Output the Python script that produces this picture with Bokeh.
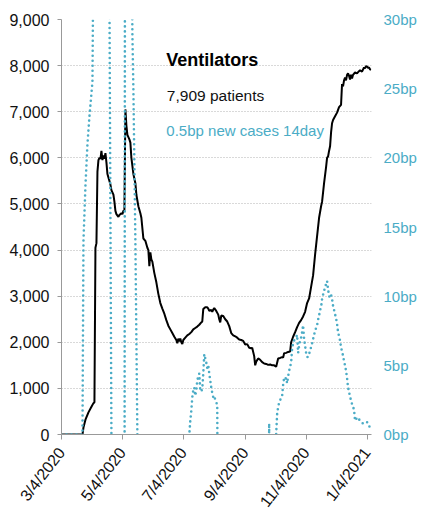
import pandas as pd
from bokeh.plotting import figure
from bokeh.models import Range1d, LinearAxis, FixedTicker, NumeralTickFormatter, Label
from bokeh.embed import file_html
from bokeh.resources import INLINE

START = "2020-03-04"
END = "2021-01-08"

tick_dates = ["2020-03-04", "2020-05-04", "2020-07-04", "2020-09-04", "2020-11-04", "2021-01-04"]
tick_labels = ["3/4/2020", "5/4/2020", "7/4/2020", "9/4/2020", "11/4/2020", "1/4/2021"]
left_ticks = [0, 1000, 2000, 3000, 4000, 5000, 6000, 7000, 8000, 9000]
right_ticks = [0, 5, 10, 15, 20, 25, 30]
right_labels = ["0bp", "5bp", "10bp", "15bp", "20bp", "25bp", "30bp"]

title_text = "Ventilators"
patients_text = "7,909 patients"
cases_text = "0.5bp new cases 14day"

# Ventilator patients (left axis)
vent_dates = [
    "2020-03-04", "2020-03-25", "2020-03-26", "2020-03-28", "2020-03-31", "2020-04-03", "2020-04-05",
    "2020-04-06", "2020-04-07", "2020-04-08", "2020-04-09", "2020-04-10", "2020-04-11", "2020-04-12",
    "2020-04-13", "2020-04-14", "2020-04-15", "2020-04-16", "2020-04-17", "2020-04-18", "2020-04-19",
    "2020-04-21", "2020-04-22", "2020-04-23", "2020-04-24", "2020-04-25", "2020-04-26", "2020-04-27",
    "2020-04-28", "2020-04-30", "2020-05-01", "2020-05-03", "2020-05-04", "2020-05-05", "2020-05-06",
    "2020-05-07", "2020-05-08", "2020-05-09", "2020-05-11", "2020-05-12", "2020-05-13", "2020-05-15",
    "2020-05-17", "2020-05-18", "2020-05-20", "2020-05-22", "2020-05-23", "2020-05-25", "2020-05-27",
    "2020-05-29", "2020-05-30", "2020-05-31", "2020-06-01", "2020-06-02", "2020-06-03", "2020-06-05",
    "2020-06-07", "2020-06-09", "2020-06-11", "2020-06-13", "2020-06-15", "2020-06-17", "2020-06-19",
    "2020-06-21", "2020-06-23", "2020-06-25", "2020-06-27", "2020-06-28", "2020-06-29", "2020-06-30",
    "2020-07-01", "2020-07-02", "2020-07-03", "2020-07-04", "2020-07-06", "2020-07-08", "2020-07-10",
    "2020-07-12", "2020-07-14", "2020-07-16", "2020-07-18", "2020-07-20", "2020-07-22", "2020-07-23",
    "2020-07-24", "2020-07-26", "2020-07-28", "2020-07-29", "2020-07-30", "2020-08-01", "2020-08-02",
    "2020-08-03", "2020-08-04", "2020-08-06", "2020-08-08", "2020-08-09", "2020-08-10", "2020-08-11",
    "2020-08-13", "2020-08-15", "2020-08-17", "2020-08-19", "2020-08-21", "2020-08-23", "2020-08-25",
    "2020-08-27", "2020-08-29", "2020-08-31", "2020-09-02", "2020-09-04", "2020-09-06", "2020-09-08",
    "2020-09-10", "2020-09-11", "2020-09-13", "2020-09-14", "2020-09-15", "2020-09-17", "2020-09-19",
    "2020-09-21", "2020-09-23", "2020-09-25", "2020-09-27", "2020-09-29", "2020-10-01", "2020-10-03",
    "2020-10-05", "2020-10-07", "2020-10-09", "2020-10-11", "2020-10-12", "2020-10-13", "2020-10-15",
    "2020-10-17", "2020-10-19", "2020-10-20", "2020-10-22", "2020-10-24", "2020-10-26", "2020-10-28",
    "2020-10-30", "2020-11-01", "2020-11-03", "2020-11-05", "2020-11-07", "2020-11-09", "2020-11-11",
    "2020-11-13", "2020-11-15", "2020-11-17", "2020-11-19", "2020-11-20", "2020-11-22", "2020-11-24",
    "2020-11-25", "2020-11-26", "2020-11-27", "2020-11-28", "2020-11-29", "2020-11-30", "2020-12-01",
    "2020-12-03", "2020-12-05", "2020-12-07", "2020-12-09", "2020-12-10", "2020-12-11", "2020-12-12",
    "2020-12-13", "2020-12-14", "2020-12-15", "2020-12-16", "2020-12-17", "2020-12-18", "2020-12-19",
    "2020-12-20", "2020-12-21", "2020-12-23", "2020-12-25", "2020-12-27", "2020-12-28", "2020-12-30",
    "2021-01-01", "2021-01-02", "2021-01-03", "2021-01-04", "2021-01-05", "2021-01-06", "2021-01-07",
    "2021-01-08",
]
vent_values = [
    0, 0, 150, 320, 480, 600, 680,
    700, 4050, 4150, 5700, 5950, 6000, 5980,
    6150, 5950, 6050, 5980, 6100, 5900, 5650,
    5500, 5420, 5300, 5250, 5200, 5050, 4850,
    4780, 4720, 4760, 4800, 4780, 4850, 4860,
    7050, 6700, 6500, 6400, 6330, 6000, 5650,
    5450, 5200, 4950, 4800, 4700, 4250, 4200,
    4050, 4000, 3650, 3950, 3800, 3750, 3500,
    3300, 3050, 2850, 2730, 2620, 2480, 2360,
    2280, 2200, 2120, 2050, 1980, 2080, 2020,
    2080, 2000, 1960, 2050, 2100, 2150, 2180,
    2220, 2280, 2310, 2340, 2380, 2430, 2450,
    2720, 2760, 2760, 2730, 2680, 2700, 2660,
    2710, 2740, 2680, 2600, 2500, 2430, 2580,
    2570, 2500, 2450, 2350, 2200, 2150, 2130,
    2100, 2060, 2050, 2030, 1950, 1960, 1880,
    1870, 1880, 1700, 1500, 1580, 1650, 1620,
    1570, 1540, 1530, 1510, 1520, 1500, 1500,
    1470, 1650, 1660, 1680, 1670, 1760, 1770,
    1790, 1800, 2000, 2120, 2220, 2330, 2420,
    2480, 2560, 2660, 2850, 2950, 3200, 3450,
    3900, 4300, 4700, 4950, 5050, 5450, 5800,
    6000, 6030, 6150, 6250, 6550, 6750, 6820,
    6900, 6980, 7100, 7150, 7600, 7550, 7680,
    7740, 7680, 7800, 7830, 7780, 7700, 7800,
    7720, 7800, 7850, 7830, 7880, 7900, 7870,
    7960, 7940, 7990, 7980, 7950, 7960, 7920,
    7909,
]

# New cases over 14 days, in basis points (right axis)
case_dates = [
    "2020-03-04", "2020-03-25", "2020-03-26", "2020-03-28", "2020-03-30", "2020-04-01", "2020-04-04",
    "2020-04-06", "2020-04-13", "2020-04-20", "2020-04-21", "2020-04-23", "2020-04-24", "2020-05-06",
    "2020-05-07", "2020-05-13", "2020-05-14", "2020-05-15", "2020-05-16", "2020-05-17", "2020-05-18",
    "2020-05-19", "2020-05-20", "2020-07-09", "2020-07-10", "2020-07-11", "2020-07-12", "2020-07-13",
    "2020-07-14", "2020-07-15", "2020-07-16", "2020-07-17", "2020-07-18", "2020-07-19", "2020-07-20",
    "2020-07-21", "2020-07-22", "2020-07-23", "2020-07-24", "2020-07-25", "2020-07-26", "2020-07-27",
    "2020-07-28", "2020-07-29", "2020-07-30", "2020-07-31", "2020-08-01", "2020-08-02", "2020-08-03",
    "2020-08-04", "2020-08-05", "2020-08-06", "2020-08-07", "2020-08-08", "2020-09-27", "2020-09-28",
    "2020-09-29", "2020-10-04",
]
case_values = [
    0, 0, 14, 18, 21, 23, 25.5,
    45, 60, 50, 32, 0, -20, -20,
    80, 40, 29, 25, 19.5, 14, 7,
    0, -10, -10, 0, 1.0, 1.7, 2.7,
    3.2, 3.4, 2.8, 3.2, 3.9, 4.2, 4.4,
    3.2, 3.1, 3.3, 4.4, 5.8, 5.5, 5.2,
    4.8, 5.0, 4.4, 3.9, 3.4, 3.0, 2.7,
    2.8, 2.5, 2.3, 2.2, -15, -30, 0.8,
    -30, -5,
]
# daily from 2020-10-05 to 2021-01-08
case_daily_start = "2020-10-05"
case_daily_values = [
    0, 1.5, 2.0, 2.3, 2.5, 2.6, 2.8, 3.6, 4.1, 4.0, 4.1, 3.7, 4.2, 4.6, 4.9, 5.2,
    6.2, 6.6, 6.8, 6.9, 7.0, 7.2, 5.9, 6.4, 6.8, 7.0, 7.4, 7.9, 6.9, 6.4, 5.9, 5.6,
    5.6, 5.8, 6.1, 6.3, 6.6, 6.9, 7.2, 7.5, 7.7, 7.9, 8.3, 8.6, 9.0, 9.2, 9.8, 10.1,
    10.4, 10.6, 10.9, 11.1, 10.5, 10.0, 9.9, 10.1, 9.8, 9.3, 9.0, 8.7, 8.4, 8.0, 7.4,
    7.1, 6.8, 6.3, 6.0, 5.7, 5.3, 5.0, 4.6, 4.1, 3.4, 3.1, 2.7, 2.5, 2.2, 2.0, 1.8,
    1.0, 1.1, 1.2, 1.25, 1.1, 1.0, 0.9, 0.85, 0.8, 0.85, 0.9, 0.9, 0.9, 0.8, 0.6,
    0.55, 0.5,
]

TEAL = "#4BACC6"
GRAY = "#999999"
FONT = "Liberation Sans"

t0 = pd.Timestamp(START)


def days(ds):
    return [(pd.Timestamp(d) - t0).days for d in ds]


vent_x = days(vent_dates)
daily_dates = pd.date_range(case_daily_start, periods=len(case_daily_values), freq="D")
case_x = days(case_dates) + days(daily_dates)
case_y = case_values + case_daily_values
tick_x = days(tick_dates)
x_end = days([END])[0] + 0.5

p = figure(width=432, height=518, x_range=Range1d(0, x_end), y_range=Range1d(0, 9000),
           output_backend="svg", toolbar_location=None,
           min_border_left=61, min_border_right=61, min_border_top=19, min_border_bottom=84)
p.outline_line_color = None
p.extra_y_ranges = {"bp": Range1d(0, 30)}

p.line(vent_x, vent_values, line_color="black", line_width=2)
p.line(case_x, case_y, y_range_name="bp", line_color=TEAL, line_width=2.6,
       line_dash="0 5", line_cap="round")

# axes
xa = p.xaxis[0]
xa.ticker = FixedTicker(ticks=tick_x)
xa.major_label_overrides = {int(k): v for k, v in zip(tick_x, tick_labels)}
xa.major_label_orientation = 0.916
xa.axis_line_color = GRAY
xa.major_tick_line_color = GRAY
xa.major_tick_out = 5
xa.major_tick_in = 0
xa.minor_tick_line_color = None
xa.major_label_text_font = FONT
xa.major_label_text_font_size = "16px"
xa.major_label_text_color = "#111111"
xa.major_label_standoff = 10

ya = p.yaxis[0]
ya.ticker = FixedTicker(ticks=left_ticks)
ya.formatter = NumeralTickFormatter(format="0,0")
ya.axis_line_color = GRAY
ya.major_tick_line_color = GRAY
ya.major_tick_out = 4
ya.major_tick_in = 0
ya.minor_tick_line_color = None
ya.major_label_text_font = FONT
ya.major_label_text_font_size = "16px"
ya.major_label_text_color = "#111111"
ya.major_label_standoff = 8

ra = LinearAxis(y_range_name="bp", ticker=FixedTicker(ticks=right_ticks),
                major_label_overrides={k: v for k, v in zip(right_ticks, right_labels)})
ra.axis_line_color = None
ra.major_tick_line_color = None
ra.major_tick_out = 0
ra.major_tick_in = 0
ra.minor_tick_line_color = None
ra.major_label_standoff = 12
ra.major_label_text_font = FONT
ra.major_label_text_font_size = "15px"
ra.major_label_text_color = TEAL
p.add_layout(ra, "right")

p.xgrid.visible = False
p.ygrid.grid_line_color = "#b3b3b3"
p.ygrid.grid_line_dash = "1 2"
p.ygrid.grid_line_width = 1

# texts
p.add_layout(Label(x=105, y=7895, text=title_text, text_font=FONT,
                   text_font_style="bold", text_font_size="18px", text_color="black"))
p.add_layout(Label(x=105.5, y=7158, text=patients_text, text_font=FONT,
                   text_font_size="15.5px", text_color="#111111"))
p.add_layout(Label(x=105, y=6400, text=cases_text, text_font=FONT,
                   text_font_size="15px", text_color=TEAL))

open("out.html", "w").write(file_html(p, INLINE))
